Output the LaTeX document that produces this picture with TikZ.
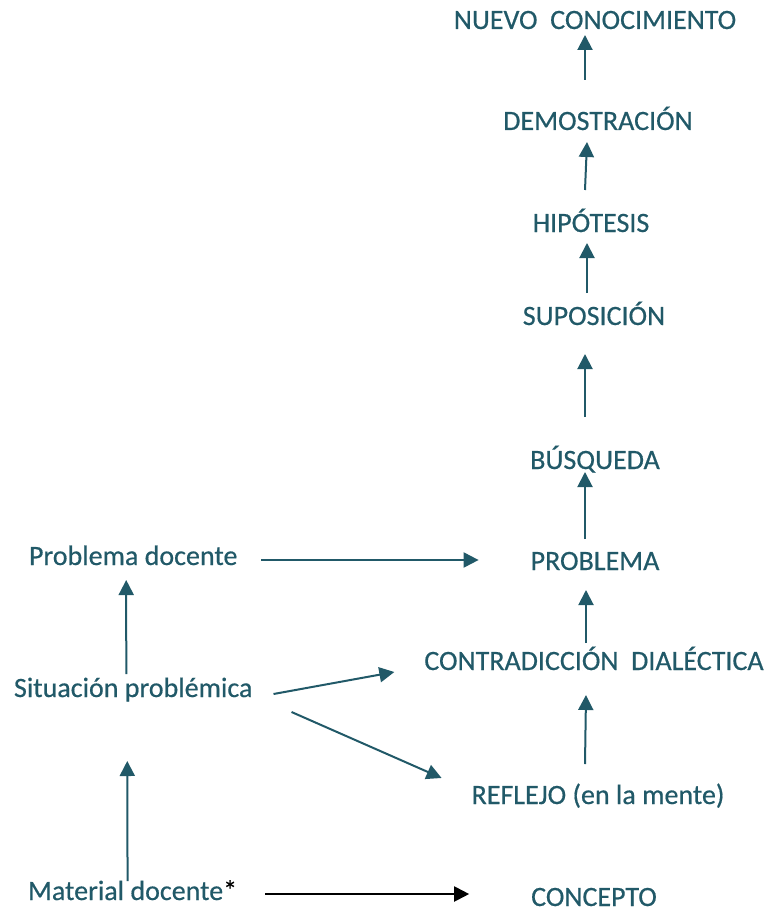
\documentclass[tikz,border=0pt]{standalone}
\usepackage{fontspec}
\setmainfont[UprightFeatures={FakeBold=0.5}]{Carlito}
\usetikzlibrary{arrows.meta,calc}
\definecolor{teal1}{HTML}{215968}
\begin{document}
\begin{tikzpicture}[x=1pt,y=-1pt,
  lbl/.style={inner sep=0pt,outer sep=0pt,text depth=0pt,text=teal1,font=\fontsize{28}{34}\selectfont},
  arr/.style={draw=teal1,line width=2pt,-{Triangle[length=15pt,width=15pt]}},
  arrk/.style={draw=black,line width=2pt,-{Triangle[length=15pt,width=15pt]}}]
\useasboundingbox (0,0) rectangle (769,912);
% right column
\node[lbl,anchor=base] (nuevo) at (595,29) {NUEVO\ \ CONOCIMIENTO};
\node[lbl,anchor=base] (demo) at (598,130) {DEMOSTRACIÓN};
\node[lbl,anchor=base] (hip) at (591,232) {HIPÓTESIS};
\node[lbl,anchor=base] (sup) at (594,325) {SUPOSICIÓN};
\node[lbl,anchor=base] (bus) at (595,469) {BÚSQUEDA};
\node[lbl,anchor=base] (prob) at (595,570) {PROBLEMA};
\node[lbl,anchor=base] (contr) at (594,670) {CONTRADICCIÓN\ \ DIALÉCTICA};
\node[lbl,anchor=base] (refl) at (598,804) {REFLEJO (en la mente)};
\node[lbl,anchor=base] (conc) at (594,906) {CONCEPTO};
% left column
\node[lbl,anchor=base west] (pd) at (29,565) {Problema docente};
\node[lbl,anchor=base west] (sit) at (14,697) {Situación problémica};
\node[lbl,anchor=base west] (mat) at (28,900) {Material docente{\color{black}*}};
% vertical chain
\draw[arr] ($(demo.base)+(-13,-50)$) -- ($(nuevo.base)+(-10,6)$);
\draw[arr] ($(hip.base)+(-6,-42)$) -- ($(demo.base)+(-11,12)$);
\draw[arr] ($(sup.base)+(-7,-32)$) -- ($(hip.base)+(-4,11)$);
\draw[arr] ($(bus.base)+(-10,-52)$) -- ($(sup.base)+(-9,29)$);
\draw[arr] ($(prob.base)+(-10,-31)$) -- ($(bus.base)+(-10,3)$);
\draw[arr] ($(contr.base)+(-8,-27)$) -- ($(prob.base)+(-9,20)$);
\draw[arr] ($(refl.base)+(-13,-40)$) -- ($(contr.base)+(-8,25)$);
% left connectors
\draw[arr] ($(pd.base east)+(24,-5)$) -- ($(prob.base west)+(-52,-10)$);
\draw[arr] ($(sit.base)+(-7,-23)$) -- ($(pd.base)+(-7,15)$);
\draw[arr] ($(sit.base east)+(21,-3)$) -- ($(contr.base west)+(-30,2)$);
\draw[arr] ($(sit.base east)+(39,15)$) -- ($(refl.base west)+(-30,-26)$);
\draw[arr] ($(mat.base)+(-5,-19)$) -- ($(sit.base)+(-6,64)$);
\draw[arrk] ($(mat.base east)+(28,-6)$) -- ($(conc.base west)+(-62,-12)$);
\end{tikzpicture}
\end{document}
